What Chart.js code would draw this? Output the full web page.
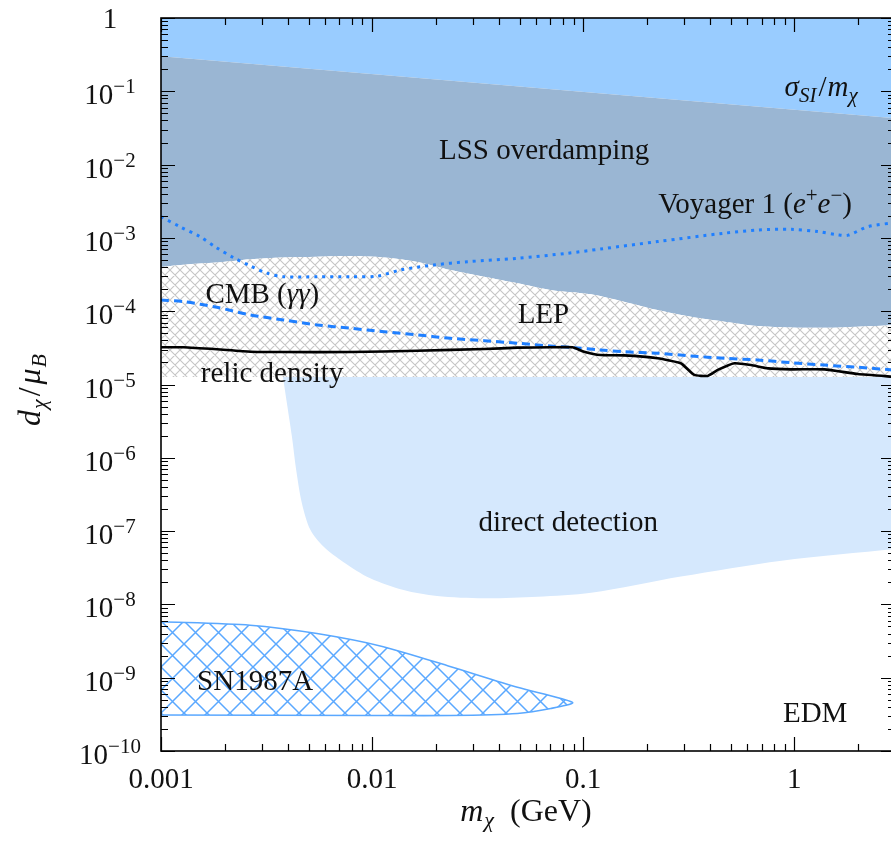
<!DOCTYPE html>
<html>
<head>
<meta charset="utf-8">
<script src="https://cdn.jsdelivr.net/npm/chart.js@4.4.0/dist/chart.umd.min.js"></script>
<style>
  html, body { margin: 0; padding: 0; background: #fff; overflow: hidden; }
  #wrap { width: 896px; height: 841px; }
</style>
</head>
<body>
<div id="wrap"><canvas id="myChart" width="896" height="841"></canvas></div>
<script>
// limites en d_chi/mu_B vs m_chi (GeV)

// sigma_SI / m_chi (borde inferior de la zona azul)
const sigmaMass = [0.001, 3];
const sigmaD = [0.30, 0.043];

// LSS overdamping termina donde empieza LEP
const lepTopMass = [0.001, 0.00128, 0.00184, 0.00265, 0.0038, 0.0055, 0.0079, 0.0114, 0.0164, 0.0235, 0.034, 0.049, 0.07, 0.109, 0.156, 0.225, 0.324, 0.467, 0.67, 0.97, 1.39, 2.0, 3];
const lepTopD = [4.0e-4, 4.3e-4, 4.6e-4, 5.1e-4, 5.4e-4, 5.55e-4, 5.65e-4, 5.4e-4, 4.7e-4, 3.65e-4, 2.95e-4, 2.4e-4, 1.95e-4, 1.7e-4, 1.35e-4, 1.04e-4, 8.4e-5, 7.2e-5, 6.3e-5, 6.0e-5, 5.95e-5, 6.15e-5, 6.5e-5];
const lepBottomMass = [0.001, 3];
const lepBottomD = [1.27e-5, 1.27e-5];

// direct detection (borde izquierdo + inferior)
const ddMass = [0.00378, 0.00395, 0.00417, 0.00437, 0.00465, 0.0051, 0.0059, 0.0073, 0.0098, 0.0141, 0.0203, 0.0339, 0.0607, 0.109, 0.29, 0.87, 3];
const ddD = [1.27e-5, 5.5e-6, 1.95e-6, 6.8e-7, 2.4e-7, 1.04e-7, 6.1e-8, 3.8e-8, 2.27e-8, 1.57e-8, 1.3e-8, 1.21e-8, 1.27e-8, 1.44e-8, 2.4e-8, 3.95e-8, 5.7e-8];

// SN1987A: borde de arriba y luego el de abajo de vuelta
const snMass = [0.001, 0.00264, 0.00548, 0.0113, 0.0236, 0.0488, 0.089, 0.0702, 0.0488, 0.0236, 0.01, 0.001];
const snD = [5.8e-9, 5.2e-9, 4.0e-9, 2.65e-9, 1.41e-9, 7.4e-10, 4.6e-10, 3.8e-10, 3.25e-10, 3.05e-10, 3.05e-10, 3.1e-10];

// Voyager 1 (e+e-)
const voyMass = [0.001, 0.00123, 0.00153, 0.00184, 0.0022, 0.00265, 0.00318, 0.0038, 0.0055, 0.0079, 0.0106, 0.0136, 0.0196, 0.0283, 0.0488, 0.084, 0.121, 0.225, 0.467, 0.67, 0.97, 1.29, 1.61, 1.8, 2.23, 3];
const voyD = [1.95e-3, 1.42e-3, 1.04e-3, 7.3e-4, 5.4e-4, 4.15e-4, 3.3e-4, 2.95e-4, 2.95e-4, 2.95e-4, 3.0e-4, 3.65e-4, 4.27e-4, 4.73e-4, 5.27e-4, 6.17e-4, 7.06e-4, 8.9e-4, 1.16e-3, 1.28e-3, 1.31e-3, 1.22e-3, 1.1e-3, 1.09e-3, 1.42e-3, 1.62e-3];

// CMB (gamma gamma)
const cmbMass = [0.001, 0.00128, 0.00184, 0.00265, 0.0038, 0.0055, 0.0079, 0.0114, 0.0164, 0.0235, 0.034, 0.049, 0.07, 0.0906, 0.121, 0.156, 0.225, 0.324, 0.467, 0.67, 0.97, 1.39, 2.0, 3];
const cmbD = [1.42e-4, 1.35e-4, 1.13e-4, 8.9e-5, 7.6e-5, 6.5e-5, 5.85e-5, 5.25e-5, 4.75e-5, 4.27e-5, 3.96e-5, 3.65e-5, 3.35e-5, 3.18e-5, 2.96e-5, 2.8e-5, 2.67e-5, 2.45e-5, 2.28e-5, 2.16e-5, 1.98e-5, 1.84e-5, 1.72e-5, 1.57e-5];

// relic density
const relicMass = [0.001, 0.00128, 0.00184, 0.00265, 0.0038, 0.0079, 0.0164, 0.034, 0.049, 0.07, 0.089, 0.101, 0.121, 0.156, 0.225, 0.29, 0.336, 0.389, 0.434, 0.52, 0.624, 0.75, 0.97, 1.39, 2.0, 3];
const relicD = [3.22e-5, 3.22e-5, 3.02e-5, 2.8e-5, 2.77e-5, 2.77e-5, 2.89e-5, 3.05e-5, 3.18e-5, 3.22e-5, 3.22e-5, 2.8e-5, 2.52e-5, 2.5e-5, 2.28e-5, 1.95e-5, 1.35e-5, 1.31e-5, 1.58e-5, 1.95e-5, 1.84e-5, 1.66e-5, 1.61e-5, 1.61e-5, 1.39e-5, 1.27e-5];

// ticks
const xTickVals = [0.001, 0.01, 0.1, 1];
const xTickLabels = ['0.001', '0.01', '0.1', '1'];
const yTickExps = [0, -1, -2, -3, -4, -5, -6, -7, -8, -9, -10];

const serif = '"Liberation Serif", "Times New Roman", serif';
const blue = '#1f7fff';

const ctx = document.getElementById('myChart').getContext('2d');

function pts(xs, ys) {
    return xs.map((x, i) => ({ x: x, y: ys[i] }));
}

// rayado cruzado a 45 grados
function hatch(size, color, width) {
    const c = document.createElement('canvas');
    c.width = size; c.height = size;
    const g = c.getContext('2d');
    g.fillStyle = '#fff';
    g.fillRect(0, 0, size, size);
    g.strokeStyle = color;
    g.lineWidth = width;
    g.beginPath();
    for (let k = -1; k <= 1; k++) {
        g.moveTo(k * size, 0); g.lineTo(k * size + size, size);
        g.moveTo(k * size, size); g.lineTo(k * size + size, 0);
    }
    g.stroke();
    return ctx.createPattern(c, 'repeat');
}

const grayHatch = hatch(10, '#c6c6c6', 1.1);
const blueHatch = hatch(23, '#5aa8ff', 1.5);

// texto con sub/superindices: [texto, tipo]
function fontOf(kind, big) {
    const s = big ? 32 : 29;
    const t = big ? 22 : 21;
    if (kind === 'it') return 'italic ' + s + 'px ' + serif;
    if (kind === 'sub') return 'italic ' + t + 'px ' + serif;
    if (kind === 'sup') return t + 'px ' + serif;
    return s + 'px ' + serif;
}
function shiftOf(kind) {
    if (kind === 'sub') return 6;
    if (kind === 'sup') return -11;
    return 0;
}
function rich(c, parts, cx, by, big) {
    let w = 0;
    parts.forEach(p => { c.font = fontOf(p[1], big); w += c.measureText(p[0]).width + (p[2] || 0); });
    let x = cx - w / 2;
    parts.forEach(p => {
        c.font = fontOf(p[1], big);
        c.fillText(p[0], x, by + shiftOf(p[1]));
        x += c.measureText(p[0]).width + (p[2] || 0);
    });
}

// etiquetas de las regiones (posicion en coordenadas de datos)
const regionLabels = [
    { parts: [['LSS overdamping', 'rm']], x: 0.0653, y: 0.0119 },
    { parts: [['Voyager 1 (', 'rm'], ['e', 'it'], ['+', 'sup'], ['e', 'it'], ['\u2212', 'sup'], [')', 'rm']], x: 0.652, y: 2.19e-3 },
    { parts: [['CMB (', 'rm'], ['\u03b3\u03b3', 'it'], [')', 'rm']], x: 0.00302, y: 1.29e-4 },
    { parts: [['LEP', 'rm']], x: 0.0648, y: 6.9e-5 },
    { parts: [['relic density', 'rm']], x: 0.00336, y: 1.08e-5 },
    { parts: [['direct detection', 'rm']], x: 0.0849, y: 1.0e-7 },
    { parts: [['SN1987A', 'rm']], x: 0.00279, y: 6.8e-10 },
    { parts: [['EDM', 'rm']], x: 1.256, y: 2.49e-10 },
    { parts: [['\u03c3', 'it'], ['SI', 'sub', 2], ['/', 'rm', 1], ['m', 'it'], ['\u03c7', 'sub']], x: 1.34, y: 0.0863 }
];

// marco, ticks hacia dentro, etiquetas y titulos
const frame = {
    id: 'frame',
    afterDraw(chart) {
        const c = chart.ctx;
        const a = chart.chartArea;
        const xs = chart.scales.x, ys = chart.scales.y;
        c.save();
        c.strokeStyle = '#000';
        c.lineWidth = 1.2;
        c.beginPath();
        for (let e = -3; e <= 0; e++) {
            for (let m = 1; m <= 9; m++) {
                const v = m * Math.pow(10, e);
                if (v > xs.max) break;
                const px = Math.round(xs.getPixelForValue(v)) + 0.5;
                const len = m === 1 ? 14 : 7;
                c.moveTo(px, a.bottom); c.lineTo(px, a.bottom - len);
                c.moveTo(px, a.top); c.lineTo(px, a.top + len);
            }
        }
        for (let e = -10; e <= 0; e++) {
            for (let m = 1; m <= 9; m++) {
                const v = m * Math.pow(10, e);
                if (v > ys.max) break;
                const py = Math.round(ys.getPixelForValue(v)) + 0.5;
                const len = m === 1 ? 14 : 7;
                c.moveTo(a.left, py); c.lineTo(a.left + len, py);
                c.moveTo(a.right, py); c.lineTo(a.right - len, py);
            }
        }
        c.stroke();
        c.lineWidth = 1.6;
        c.strokeRect(a.left, a.top, a.right - a.left, a.bottom - a.top);

        c.fillStyle = '#111';
        c.textBaseline = 'alphabetic';
        // etiquetas eje x
        c.font = '29px ' + serif;
        c.textAlign = 'center';
        xTickVals.forEach((v, i) => {
            c.fillText(xTickLabels[i], xs.getPixelForValue(v), a.bottom + 37);
        });
        // etiquetas eje y (10^n)
        c.textAlign = 'left';
        yTickExps.forEach(n => {
            const py = ys.getPixelForValue(Math.pow(10, n));
            if (n === 0) {
                rich(c, [['1', 'rm']], a.left - 51, py + 10);
            } else {
                rich(c, [['10', 'rm'], ['\u2212' + (-n), 'sup']], a.left - 51, py + 13);
            }
        });
        // etiquetas de regiones
        regionLabels.forEach(l => {
            rich(c, l.parts, xs.getPixelForValue(l.x), ys.getPixelForValue(l.y));
        });
        // titulo eje x
        rich(c, [['m', 'it', 1], ['\u03c7', 'sub'], ['  (GeV)', 'rm']], 526, 821, true);
        // titulo eje y
        c.translate(40, 390);
        c.rotate(-Math.PI / 2);
        rich(c, [['d', 'it', 1], ['\u03c7', 'sub', 3], ['/', 'rm', 3], ['\u03bc', 'it', 1], ['B', 'sub']], 0, 0, true);
        c.restore();
    }
};

const myChart = new Chart(ctx, {
    type: 'line',
    data: {
        datasets: [
            { // 0
                label: 'sigma_SI/m_chi',
                data: pts(sigmaMass, sigmaD),
                borderWidth: 0,
                backgroundColor: '#99ccff',
                fill: 'end',
                order: 8
            },
            { // 1
                label: 'LSS overdamping',
                data: pts(lepTopMass, lepTopD),
                borderWidth: 0,
                tension: 0.3,
                fill: { target: 0, above: '#9ab6d3', below: '#9ab6d3' },
                order: 7
            },
            { // 2
                label: 'LEP',
                data: pts(lepBottomMass, lepBottomD),
                borderWidth: 0,
                fill: { target: 1, above: grayHatch, below: grayHatch },
                order: 6
            },
            { // 3
                label: 'direct detection',
                data: pts(ddMass, ddD),
                borderWidth: 0,
                tension: 0.3,
                backgroundColor: '#d5e8fd',
                fill: { value: lepBottomD[0] },
                order: 5
            },
            { // 4
                label: 'SN1987A',
                data: pts(snMass, snD),
                borderColor: '#5aa8ff',
                borderWidth: 1.6,
                tension: 0.25,
                backgroundColor: blueHatch,
                fill: 'shape',
                order: 4
            },
            { // 5
                label: 'Voyager 1',
                data: pts(voyMass, voyD),
                borderColor: blue,
                borderWidth: 3,
                borderDash: [3, 5],
                tension: 0.3,
                fill: false,
                order: 3
            },
            { // 6
                label: 'CMB',
                data: pts(cmbMass, cmbD),
                borderColor: blue,
                borderWidth: 3,
                borderDash: [8, 5],
                tension: 0.3,
                fill: false,
                order: 2
            },
            { // 7
                label: 'relic density',
                data: pts(relicMass, relicD),
                borderColor: '#000',
                borderWidth: 2.6,
                tension: 0.15,
                fill: false,
                order: 1
            }
        ]
    },
    options: {
        responsive: false,
        animation: false,
        layout: { padding: { top: 18, right: 1, left: 0, bottom: 0 } },
        elements: { point: { radius: 0, hoverRadius: 0 } },
        plugins: {
            legend: { display: false },
            tooltip: { enabled: false }
        },
        scales: {
            x: {
                type: 'logarithmic',
                min: 0.001,
                max: 3,
                grid: { display: false },
                border: { display: false },
                ticks: { display: false },
                afterFit: s => { s.height = 90; }
            },
            y: {
                type: 'logarithmic',
                min: 1e-10,
                max: 1,
                grid: { display: false },
                border: { display: false },
                ticks: { display: false },
                afterFit: s => { s.width = 161; }
            }
        }
    },
    plugins: [frame]
});
</script>
</body>
</html>
